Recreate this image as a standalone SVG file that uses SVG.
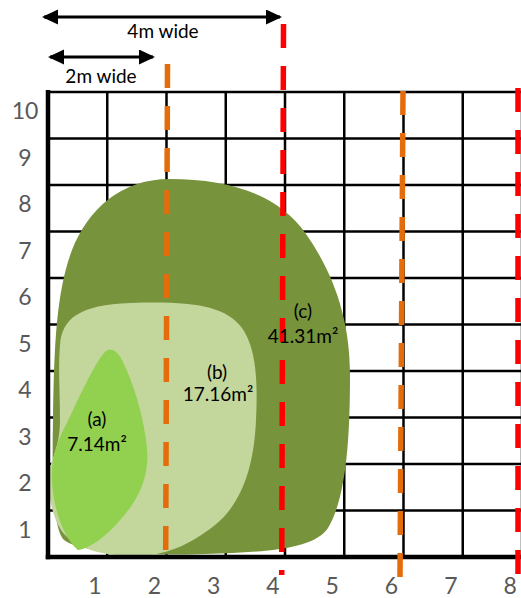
<svg xmlns="http://www.w3.org/2000/svg" width="521" height="598" viewBox="0 0 521 598">
<style>
.grid line{stroke:#000;stroke-width:2.5}
.axis{stroke:#000;stroke-width:4.5;fill:none}
.ax{font-family:Lato,"Liberation Sans",sans-serif;font-size:23px;fill:#595959;text-anchor:middle}
.lbl{font-family:Lato,"Liberation Sans",sans-serif;font-size:19px;fill:#000;text-anchor:middle}
.dash{fill:none;stroke-width:5.5;stroke-dasharray:24 18}
.or{stroke:#E46C0A}
.rd{stroke:#FF0000}
.arr{stroke:#000;stroke-width:3;fill:none;marker-start:url(#ah);marker-end:url(#ah)}
</style>
<defs>
<marker id="ah" markerUnits="userSpaceOnUse" markerWidth="16" markerHeight="16" refX="14" refY="7.5" orient="auto-start-reverse" viewBox="0 0 16 16">
<path d="M0,0 L16,7.5 L0,15 Z" fill="#000"/>
</marker>
</defs>
<rect width="521" height="598" fill="#fff"/>
<g id="grid" class="grid">
<line x1="48" y1="92" x2="523" y2="92"/>
<line x1="48" y1="138.5" x2="523" y2="138.5"/>
<line x1="48" y1="185" x2="523" y2="185"/>
<line x1="48" y1="231.5" x2="523" y2="231.5"/>
<line x1="48" y1="278" x2="523" y2="278"/>
<line x1="48" y1="324.5" x2="523" y2="324.5"/>
<line x1="48" y1="371" x2="523" y2="371"/>
<line x1="48" y1="417.5" x2="523" y2="417.5"/>
<line x1="48" y1="464" x2="523" y2="464"/>
<line x1="48" y1="510.5" x2="523" y2="510.5"/>
<line x1="107.25" y1="92" x2="107.25" y2="557"/>
<line x1="166.5" y1="92" x2="166.5" y2="557"/>
<line x1="225.75" y1="92" x2="225.75" y2="557"/>
<line x1="285" y1="92" x2="285" y2="557"/>
<line x1="344.25" y1="92" x2="344.25" y2="557"/>
<line x1="403.5" y1="92" x2="403.5" y2="557"/>
<line x1="462.75" y1="92" x2="462.75" y2="557"/>
<line x1="522" y1="92" x2="522" y2="557"/>
</g>
<g id="area-c">
<path fill="#77933C" d="M170,179 C232,179 280,196 306,234 C334,274 350,320 350,375 C350,440 346,498 328,528 C314,548 275,552 205,554 C140,556 82,553 64,540 C52,528 52,470 53,420 C54,340 57,290 72,250 C88,210 120,179 170,179 Z"/>
</g>
<g id="area-b">
<path fill="#C3D69B" d="M60,345 C62,318 80,305 130,303 C190,301 225,305 242,328 C256,348 258,380 256,420 C254,470 240,505 215,525 C190,545 165,556 135,556 C105,556 80,550 65,535 C55,525 48,500 48,478 C48,465 60,450 60,420 C60,390 58,370 60,345 Z"/>
</g>
<g id="area-a">
<path fill="#92D050" d="M108,350 C100,352 80,395 67,423 C56,443 51,460 52,480 C53,510 65,540 78,550 C95,548 118,525 132,505 C145,485 150,465 146,440 C142,410 132,380 122,360 C118,352 113,349 108,350 Z"/>
</g>
<g id="axes">
<line class="axis" x1="48" y1="90" x2="48" y2="559.25"/>
<line class="axis" x1="45.75" y1="557" x2="523" y2="557"/>
</g>
<g id="y-labels">
<text class="ax" x="25" y="119">10</text>
<text class="ax" x="25" y="165.5">9</text>
<text class="ax" x="25" y="212">8</text>
<text class="ax" x="25" y="258.5">7</text>
<text class="ax" x="25" y="305">6</text>
<text class="ax" x="25" y="351.5">5</text>
<text class="ax" x="25" y="398">4</text>
<text class="ax" x="25" y="444.5">3</text>
<text class="ax" x="25" y="491">2</text>
<text class="ax" x="25" y="537.5">1</text>
</g>
<g id="x-labels">
<text class="ax" x="95" y="594">1</text>
<text class="ax" x="154.3" y="594">2</text>
<text class="ax" x="213.6" y="594">3</text>
<text class="ax" x="272.9" y="594">4</text>
<text class="ax" x="332.2" y="594">5</text>
<text class="ax" x="391.5" y="594">6</text>
<text class="ax" x="450.8" y="594">7</text>
<text class="ax" x="510.1" y="594">8</text>
</g>
<g id="connectors">
<line class="dash or" x1="167.5" y1="64" x2="165.7" y2="550"/>
<line class="dash rd" x1="283.5" y1="24" x2="281.7" y2="575"/>
<line class="dash or" x1="403" y1="91" x2="400" y2="577"/>
<line class="dash rd" x1="518" y1="88" x2="518" y2="577"/>
<line class="arr" x1="44" y1="17" x2="280" y2="17"/>
<line class="arr" x1="50" y1="57" x2="153" y2="57"/>
</g>
<g id="width-labels">
<text class="lbl" x="163" y="38">4m wide</text>
<text class="lbl" x="101" y="83">2m wide</text>
</g>
<g id="label-a">
<text class="lbl" x="97" y="426">(a)</text>
<text class="lbl" x="97" y="451">7.14m²</text>
</g>
<g id="label-b">
<text class="lbl" x="217" y="379">(b)</text>
<text class="lbl" x="218" y="401">17.16m²</text>
</g>
<g id="label-c">
<text class="lbl" x="303" y="318">(c)</text>
<text class="lbl" x="303" y="343">41.31m²</text>
</g>
</svg>
